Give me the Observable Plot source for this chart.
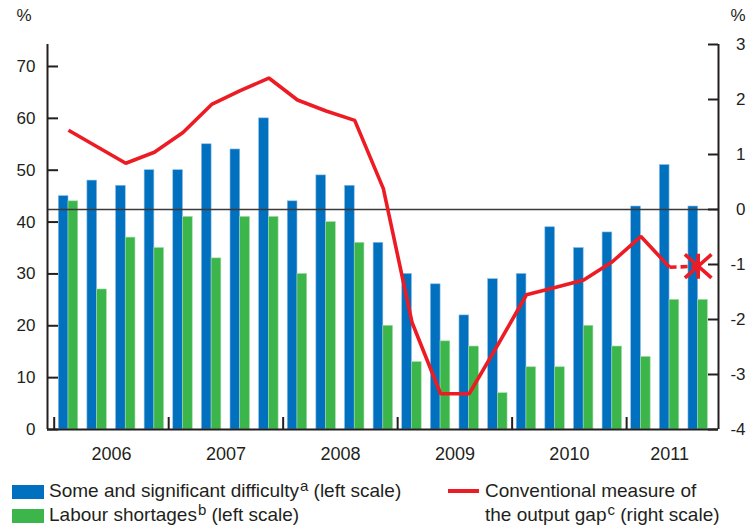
<!DOCTYPE html>
<html>
<head>
<meta charset="utf-8">
<script src="https://cdn.jsdelivr.net/npm/d3@7"></script>
<script src="https://cdn.jsdelivr.net/npm/@observablehq/plot@0.6"></script>
<style>
  html, body { margin: 0; padding: 0; background: #fff; }
  #wrap { position: relative; width: 753px; height: 529px; font-family: "Liberation Sans", Arial, sans-serif; color: #231f20; }
  #legend { position: absolute; left: 0; top: 470px; width: 753px; height: 59px; font-size: 19px; }
  .item { position: absolute; white-space: nowrap; line-height: 24px; }
  .sw { position: absolute; width: 32px; height: 14px; }
  .ln { position: absolute; width: 31px; height: 4px; }
  sup { font-size: 15px; vertical-align: 0; position: relative; top: -6px; margin-left: 1px; }
</style>
</head>
<body>
<div id="wrap">
  <div id="chart"></div>
  <div id="legend"></div>
</div>
<script>
// ---- data ----
const quarters = [
  "2006 Q1","2006 Q2","2006 Q3","2006 Q4",
  "2007 Q1","2007 Q2","2007 Q3","2007 Q4",
  "2008 Q1","2008 Q2","2008 Q3","2008 Q4",
  "2009 Q1","2009 Q2","2009 Q3","2009 Q4",
  "2010 Q1","2010 Q2","2010 Q3","2010 Q4",
  "2011 Q1","2011 Q2","2011 Q3"
];
const difficulty = [45,48,47,50, 50,55,54,60, 44,49,47,36, 30,28,22,29, 30,39,35,38, 43,51,43];
const shortages  = [44,27,37,35, 41,33,41,41, 30,40,36,20, 13,17,16,7, 12,12,20,16, 14,25,25];
const outputGap  = [1.44,1.14,0.84,1.04, 1.40,1.91,2.16,2.39, 1.99,1.79,1.62,0.38,
                    -2.05,-3.35,-3.35,-2.46, -1.55,-1.42,-1.28,-0.95, -0.49,-1.05,-1.03];
const years = ["2006","2007","2008","2009","2010","2011"];
const leftTicks = [0,10,20,30,40,50,60,70];
const rightTicks = [-4,-3,-2,-1,0,1,2,3];

// ---- styles ----
const BLUE = "#0070bf", GREEN = "#3cb54a", RED = "#ed1c24", INK = "#231f20";
const W = 753, H = 470, mL = 47, mR = 35, mT = 44, mB = 41;
const innerW = W - mL - mR, innerH = H - mT - mB;
const xDomain = [-0.734, 22.71];
const leftMax = 74.24;
const rightDomain = [-4, 3];
const toLeft = v => (v - rightDomain[0]) / (rightDomain[1] - rightDomain[0]) * leftMax;
const BW = 0.34;

const rows = quarters.map((q, i) => ({q, i, year: q.slice(0, 4), difficulty: difficulty[i], shortages: shortages[i], gap: outputGap[i]}));
const yearRows = years.map(y => {
  const idx = rows.filter(r => r.year === y).map(r => r.i);
  return {year: y, center: d3.mean(idx), start: d3.min(idx) - 0.5};
});
const nSolid = outputGap.length - 1; // last point is an estimate (dashed)

const asterisk = {
  draw(ctx, size) {
    const r = Math.sqrt(size / Math.PI);
    ctx.moveTo(0, -r); ctx.lineTo(0, r);
    ctx.moveTo(-1.064 * r, -0.936 * r); ctx.lineTo(1.064 * r, 0.936 * r);
    ctx.moveTo(-1.064 * r, 0.936 * r); ctx.lineTo(1.064 * r, -0.936 * r);
  }
};

const chart = Plot.plot({
  width: W, height: H,
  marginLeft: mL, marginRight: mR, marginTop: mT, marginBottom: mB,
  style: {fontFamily: '"Liberation Sans", Arial, sans-serif', color: INK, background: "#fff", overflow: "visible"},
  x: {type: "linear", domain: xDomain, axis: null},
  y: {domain: [0, leftMax], axis: null},
  marks: [
    Plot.rect(rows, {x1: d => d.i - BW, x2: d => d.i, y1: 0, y2: "difficulty", fill: BLUE, stroke: "#8ebfe6", strokeWidth: 0.6}),
    Plot.rect(rows, {x1: d => d.i, x2: d => d.i + BW, y1: 0, y2: "shortages", fill: GREEN, stroke: "#a6dcab", strokeWidth: 0.6}),
    Plot.ruleY([toLeft(0)], {stroke: "#3a3a3a", strokeWidth: 1.4}),
    // axis lines
    Plot.ruleX(xDomain, {stroke: INK, strokeWidth: 2}),
    Plot.ruleY([0], {stroke: INK, strokeWidth: 2}),
    // inward ticks
    Plot.tickY(leftTicks, {y: d => d, insetRight: innerW - 11, stroke: INK, strokeWidth: 2}),
    Plot.tickY(rightTicks, {y: d => toLeft(d), insetLeft: innerW - 10, stroke: INK, strokeWidth: 2}),
    Plot.tickX(yearRows, {x: "start", insetTop: innerH - 12, stroke: INK, strokeWidth: 2}),
    // tick labels
    Plot.text(leftTicks, {y: d => d, text: d => String(d), frameAnchor: "left", dx: -12, textAnchor: "end", fontSize: 17, fill: INK}),
    Plot.text(rightTicks, {y: d => toLeft(d), text: d => String(d), frameAnchor: "right", dx: 27, textAnchor: "end", fontSize: 17, fill: INK}),
    Plot.text(yearRows, {x: "center", text: "year", frameAnchor: "bottom", lineAnchor: "middle", dy: 25, fontSize: 18, fill: INK}),
    Plot.text(["%"], {frameAnchor: "top-left", lineAnchor: "middle", dx: -31, dy: -29, textAnchor: "start", fontSize: 17, fill: INK}),
    Plot.text(["%"], {frameAnchor: "top-right", lineAnchor: "middle", dx: 27, dy: -29, textAnchor: "end", fontSize: 17, fill: INK}),
    // output gap line
    Plot.line(rows.slice(0, nSolid), {x: "i", y: d => toLeft(d.gap), stroke: RED, strokeWidth: 3.6, strokeLinejoin: "miter", strokeLinecap: "butt"}),
    Plot.line(rows.slice(nSolid - 1), {x: "i", y: d => toLeft(d.gap), stroke: RED, strokeWidth: 3.6, strokeDasharray: "7,4", strokeLinecap: "butt"}),
    Plot.dot(rows.slice(nSolid), {x: "i", y: d => toLeft(d.gap), symbol: asterisk, r: 12.5, fill: "none", stroke: RED, strokeWidth: 3.6})
  ]
});
document.getElementById("chart").appendChild(chart);

// ---- legend ----
const legend = document.getElementById("legend");
legend.innerHTML = `
  <div class="sw" style="left:12px;top:15px;background:${BLUE}"></div>
  <div class="item" style="left:49px;top:9px">Some and significant difficulty<sup>a</sup> (left scale)</div>
  <div class="sw" style="left:12px;top:39px;background:${GREEN}"></div>
  <div class="item" style="left:49px;top:33px">Labour shortages<sup>b</sup> (left scale)</div>
  <div class="ln" style="left:448px;top:19px;background:${RED}"></div>
  <div class="item" style="left:485px;top:9px">Conventional measure of</div>
  <div class="item" style="left:485px;top:33px">the output gap<sup>c</sup> (right scale)</div>
`;
</script>
</body>
</html>
